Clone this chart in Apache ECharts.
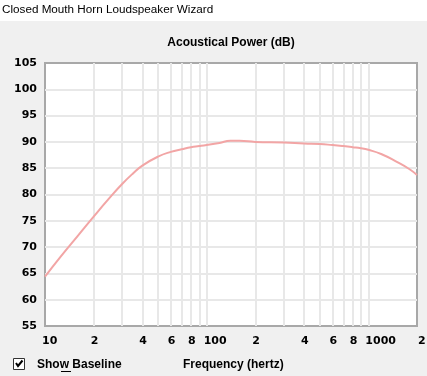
<!DOCTYPE html>
<html>
<head>
<meta charset="utf-8">
<script src="https://cdn.jsdelivr.net/npm/echarts@6/dist/echarts.min.js"></script>
<style>
html,body{margin:0;padding:0;background:#f0f0f0;}
#main{width:427px;height:376px;}
</style>
</head>
<body>
<div id="main"></div>
<script>
// frequency (Hz) and acoustical power (dB)
var freqs = [10, 12.5, 16, 20, 25, 30, 35, 40, 50, 60, 70, 80, 90, 100, 120, 140, 160, 200, 300, 400, 500, 600, 700, 800, 900, 1000, 1200, 1500, 1800, 2000];
var power = [64.4, 68.2, 72.2, 75.8, 79.3, 82.0, 84.0, 85.5, 87.2, 88.1, 88.6, 89.0, 89.2, 89.4, 89.8, 90.2, 90.2, 90.0, 89.9, 89.7, 89.6, 89.4, 89.2, 89.0, 88.8, 88.5, 87.7, 86.2, 84.8, 83.7];
// vertical grid lines (log decades with 2..9 minors)
var xGridVals = [10, 20, 30, 40, 50, 60, 70, 80, 90, 100, 200, 300, 400, 500, 600, 700, 800, 900, 1000, 2000];
// tick labels on the frequency axis
var xLabelVals = [10, 20, 40, 60, 80, 100, 200, 400, 600, 800, 1000, 2000];
var xLabelText = ['10', '2', '4', '6', '8', '100', '2', '4', '6', '8', '1000', '2'];

var chart = echarts.init(document.getElementById('main'));

var seriesData = [];
for (var i = 0; i < freqs.length; i++) {
	seriesData.push([freqs[i], power[i]]);
}

var gridCol = '#e8e8e8';
var lblFont = 'DejaVu Sans';

var option = {
	animation: false,
	backgroundColor: '#f0f0f0',
	grid: {
		left: 45, right: 10, top: 63, bottom: 50,
		outerBoundsMode: 'none',
		containLabel: false,
		show: true,
		backgroundColor: '#fff',
		borderColor: '#a8a8a8',
		borderWidth: 2
	},
	xAxis: {
		type: 'log',
		logBase: 10,
		min: 10,
		max: 2000,
		axisLine: {show: false},
		axisTick: {show: false, customValues: xGridVals},
		splitLine: {show: true, showMinLine: false, showMaxLine: false, lineStyle: {color: gridCol, width: 2}},
		axisLabel: {
			customValues: xLabelVals,
			margin: 10,
			align: 'left',
			color: '#000',
			fontFamily: lblFont,
			fontWeight: 'bold',
			fontSize: 11,
			formatter: function (v) {
				for (var k = 0; k < xLabelVals.length; k++) {
					if (Math.abs(xLabelVals[k] - v) < 1e-6) {
						if (k == xLabelVals.length - 1) return '{e|' + xLabelText[k] + '}';
						return '{n|' + xLabelText[k] + '}';
					}
				}
				return '';
			},
			rich: {
				n: {padding: [0, 0, 0, -3], fontFamily: lblFont, fontWeight: 'bold', fontSize: 11, color: '#000'},
				e: {padding: [0, 0, 0, 1], fontFamily: lblFont, fontWeight: 'bold', fontSize: 11, color: '#000'}
			}
		}
	},
	yAxis: {
		type: 'value',
		min: 55,
		max: 105,
		interval: 5,
		axisLine: {show: false},
		axisTick: {show: false},
		splitLine: {show: true, showMinLine: false, showMaxLine: false, lineStyle: {color: gridCol, width: 2}},
		axisLabel: {
			margin: 8,
			color: '#000',
			fontFamily: lblFont,
			fontWeight: 'bold',
			fontSize: 11
		}
	},
	series: [{
		type: 'line',
		data: seriesData,
		smooth: true,
		showSymbol: false,
		lineStyle: {color: '#f2a5a5', width: 2},
		z: 3
	}],
	graphic: [
		{type: 'rect', shape: {x: 0, y: 0, width: 427, height: 21}, style: {fill: '#fff'}, z: -10},
		{type: 'text', x: 2, y: 10, style: {text: 'Closed Mouth Horn Loudspeaker Wizard', fill: '#000', font: '11.7px "Liberation Sans"', textVerticalAlign: 'middle'}},
		{type: 'text', x: 231, y: 43, style: {text: 'Acoustical Power (dB)', fill: '#000', font: 'bold 12px "Liberation Sans"', textAlign: 'center', textVerticalAlign: 'middle'}},
		// checkbox
		{type: 'rect', shape: {x: 13.5, y: 358.5, width: 11, height: 11}, style: {fill: '#fff', stroke: '#333', lineWidth: 1}},
		{type: 'polyline', shape: {points: [[16, 363], [18, 366], [22.5, 360.5]]}, style: {stroke: '#000', lineWidth: 2, fill: null}},
		{type: 'text', x: 37, y: 365, style: {text: 'Show Baseline', fill: '#000', font: 'bold 12px "Liberation Sans"', textVerticalAlign: 'middle'}},
		{type: 'line', shape: {x1: 61, y1: 371.5, x2: 71, y2: 371.5}, style: {stroke: '#000', lineWidth: 1}},
		{type: 'text', x: 183, y: 365, style: {text: 'Frequency (hertz)', fill: '#000', font: 'bold 12px "Liberation Sans"', textVerticalAlign: 'middle'}}
	]
};

chart.setOption(option);
</script>
</body>
</html>
